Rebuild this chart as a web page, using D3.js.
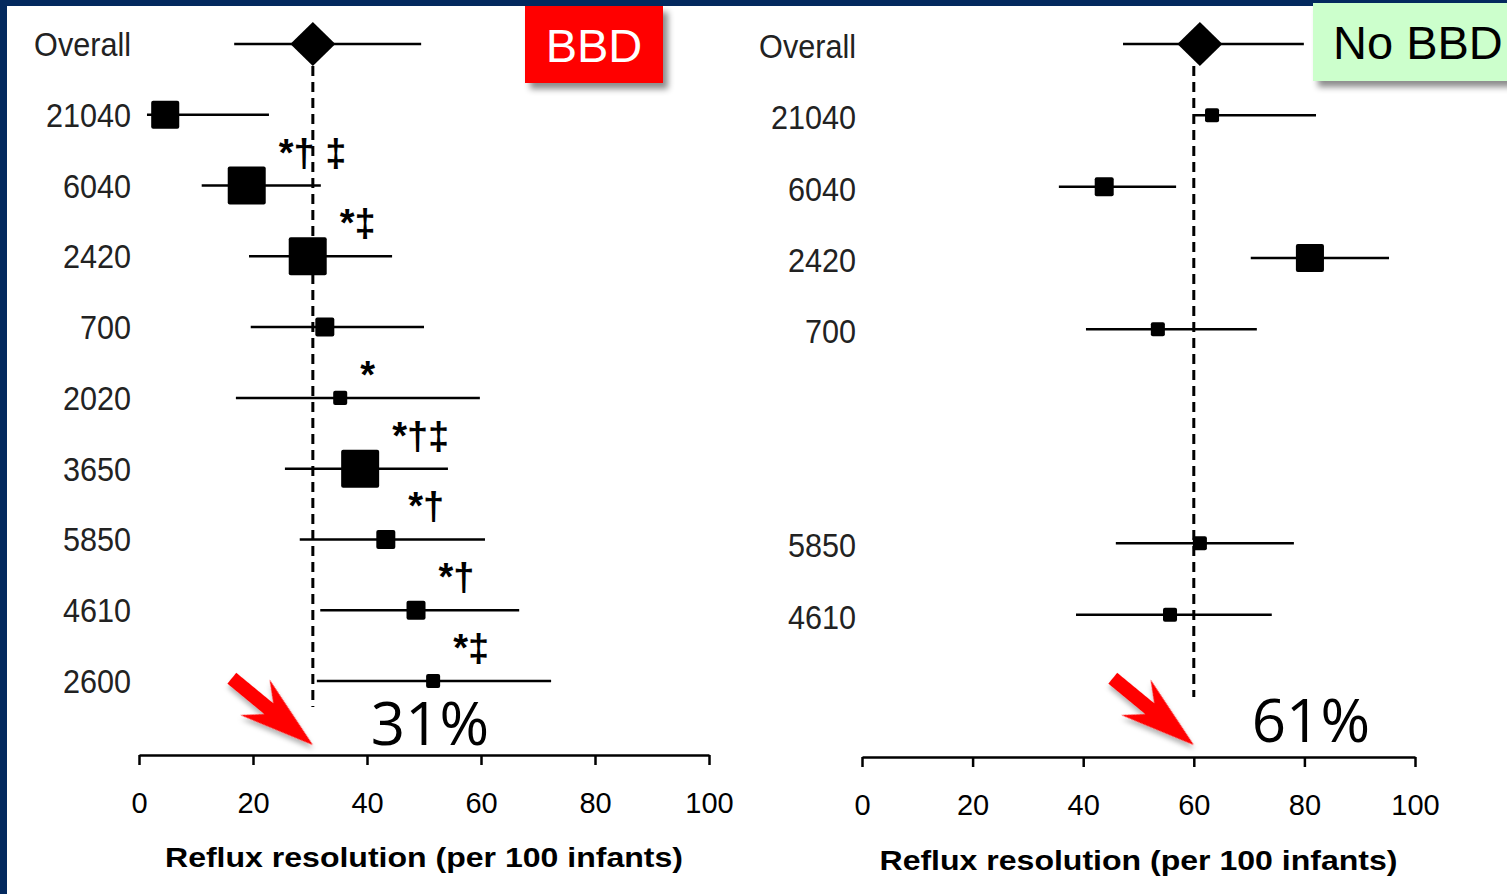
<!DOCTYPE html>
<html>
<head>
<meta charset="utf-8">
<script src="https://cdn.jsdelivr.net/npm/d3@7"></script>
<style>
  body { margin: 0; background: #fff; }
  svg { display: block; }
</style>
</head>
<body>
<script>
// study rows, top to bottom
const studies = ["Overall", "21040", "6040", "2420", "700", "2020", "3650", "5850", "4610", "2600"];

// BBD panel (per 100 infants)
const bbdEst    = [30.5, 4.6, 18.9, 29.6, 32.6, 35.3, 38.8, 43.3, 48.6, 51.6];
const bbdLow    = [16.7, 1.4, 11.0, 19.3, 19.6, 17.0, 25.6, 28.2, 31.8, 31.2];
const bbdHigh   = [49.5, 22.8, 31.9, 44.4, 50.0, 59.8, 54.2, 60.7, 66.7, 72.3];
const bbdWeight = [null, 12, 22, 22, 5.5, 3, 22, 5.5, 5.5, 3];
const bbdMarks  = ["", "", "*† ‡", "*‡", "", "*", "*†‡", "*†", "*†", "*‡"];
const bbdRef = 30.5;

// No BBD panel
const noEst    = [61.1, 63.3, 43.8, 81.0, 53.5, null, null, 61.1, 55.7, null];
const noLow    = [47.2, 60.0, 35.6, 70.3, 40.5, null, null, 45.9, 38.7, null];
const noHigh   = [79.9, 82.1, 56.8, 95.3, 71.4, null, null, 78.1, 74.1, null];
const noWeight = [null, 3, 5.5, 12, 3, null, null, 3, 3, null];
const noRef = 60.0;

const xTicks = [0, 20, 40, 60, 80, 100];
const axisTitle = "Reflux resolution (per 100 infants)";

const W = 1507, H = 894;
const svg = d3.select("body").append("svg").attr("width", W).attr("height", H);

const defs = svg.append("defs");
const sh = defs.append("filter").attr("id", "shadow")
  .attr("x", "-20%").attr("y", "-20%").attr("width", "150%").attr("height", "150%");
sh.append("feDropShadow").attr("dx", 5).attr("dy", 6).attr("stdDeviation", 3)
  .attr("flood-color", "#000").attr("flood-opacity", 0.45);
const sh2 = defs.append("filter").attr("id", "ashadow")
  .attr("x", "-30%").attr("y", "-30%").attr("width", "170%").attr("height", "170%");
sh2.append("feDropShadow").attr("dx", 3).attr("dy", 3).attr("stdDeviation", 2.5)
  .attr("flood-color", "#000").attr("flood-opacity", 0.3);

// navy frame
svg.append("rect").attr("x", 0).attr("y", 0).attr("width", W).attr("height", 6).attr("fill", "#03295e");
svg.append("rect").attr("x", 0).attr("y", 0).attr("width", 7).attr("height", H).attr("fill", "#03295e");

const size = d3.scaleSqrt().domain([0, 22]).range([0, 38]);

const panels = [
  { est: bbdEst, low: bbdLow, high: bbdHigh, w: bbdWeight, marks: bbdMarks, ref: bbdRef,
    pct: "31%", xr: [139, 709], yr: [44, 681], axisY: 755, labelX: 131, labelDy: 12,
    refY: [66, 707], pctY: 745, titleY: 867,
    badge: { x: 525, y: 6, w: 138, h: 77, fill: "#ff0000", color: "#fff", text: "BBD", tx: 594, anchor: "middle" } },
  { est: noEst, low: noLow, high: noHigh, w: noWeight, marks: studies.map(() => ""), ref: noRef,
    pct: "61%", xr: [862, 1415], yr: [44, 686], axisY: 757, labelX: 856, labelDy: 14,
    refY: [66, 697], pctY: 742, titleY: 870,
    badge: { x: 1313, y: 3, w: 200, h: 78, fill: "#ccffcc", color: "#000", text: "No BBD", tx: 1333, anchor: "start" } }
];

panels.forEach(p => {
  const g = svg.append("g");
  const x = d3.scaleLinear().domain([0, 100]).range(p.xr);
  const y = d3.scalePoint().domain(studies).range(p.yr);

  const rows = studies.map((s, i) => ({
    s, est: p.est[i], lo: p.low[i], hi: p.high[i], w: p.w[i], mark: p.marks[i]
  })).filter(d => d.est != null);

  // reference dashed line
  g.append("line")
    .attr("x1", x(p.ref)).attr("x2", x(p.ref))
    .attr("y1", p.refY[0]).attr("y2", p.refY[1])
    .attr("stroke", "#000").attr("stroke-width", 3).attr("stroke-dasharray", "10,6");

  // confidence intervals
  g.selectAll("line.ci").data(rows).join("line").attr("class", "ci")
    .attr("x1", d => x(d.lo)).attr("x2", d => x(d.hi))
    .attr("y1", d => y(d.s)).attr("y2", d => y(d.s))
    .attr("stroke", "#000").attr("stroke-width", 2.5);

  // study squares
  g.selectAll("rect.pt").data(rows.filter(d => d.w != null)).join("rect").attr("class", "pt")
    .attr("x", d => x(d.est) - size(d.w) / 2).attr("y", d => y(d.s) - size(d.w) / 2)
    .attr("width", d => size(d.w)).attr("height", d => size(d.w))
    .attr("rx", 2).attr("fill", "#000");

  // pooled diamond
  g.selectAll("path.dia").data(rows.filter(d => d.w == null)).join("path").attr("class", "dia")
    .attr("d", d => {
      const cx = x(d.est), cy = y(d.s);
      return `M${cx - 22.5},${cy}L${cx},${cy - 22}L${cx + 22.5},${cy}L${cx},${cy + 22}Z`;
    })
    .attr("fill", "#000");

  // significance marks
  g.selectAll("text.mark").data(rows.filter(d => d.mark)).join("text").attr("class", "mark")
    .attr("x", d => x(d.est) + size(d.w) / 2 + 13)
    .attr("y", d => y(d.s) - (d.mark.length > 1 ? 20 : 10))
    .attr("font-family", "Liberation Sans, Arial, sans-serif").attr("font-size", 38)
    .attr("font-weight", "bold").attr("fill", "#000")
    .text(d => d.mark);

  // row labels
  g.selectAll("text.lab").data(rows).join("text").attr("class", "lab")
    .attr("transform", d => `translate(${p.labelX},${y(d.s) + p.labelDy}) scale(0.9,1)`)
    .attr("text-anchor", "end")
    .attr("font-family", "Liberation Sans, Arial, sans-serif").attr("font-size", 34)
    .attr("fill", "#222")
    .text(d => d.s);

  // x axis
  const ax = g.append("g").attr("transform", `translate(0,${p.axisY})`)
    .call(d3.axisBottom(x).tickValues(xTicks).tickSize(10).tickSizeOuter(0).tickPadding(27));
  ax.select(".domain").attr("stroke", "#000").attr("stroke-width", 2.5);
  ax.selectAll(".tick line").attr("stroke", "#000").attr("stroke-width", 2.5);
  ax.selectAll(".tick text").attr("font-family", "Liberation Sans, Arial, sans-serif")
    .attr("font-size", 29).attr("fill", "#000");

  g.append("text")
    .attr("x", (p.xr[0] + p.xr[1]) / 2).attr("y", p.titleY)
    .attr("text-anchor", "middle")
    .attr("font-family", "Liberation Sans, Arial, sans-serif").attr("font-weight", "bold")
    .attr("font-size", 28).attr("textLength", 518).attr("lengthAdjust", "spacingAndGlyphs")
    .text(axisTitle);

  // pooled percentage
  g.append("text")
    .attr("x", x(p.ref) + 58).attr("y", p.pctY)
    .attr("font-family", "Open Sans, sans-serif").attr("font-size", 60).attr("fill", "#000")
    .text(p.pct);

  // red arrow pointing at the pooled value
  const tipX = x(p.ref), tipY = 745;
  g.append("path")
    .attr("d", "M0,-7L48,-7L30,-23L105,0L30,23L48,7L0,7Z")
    .attr("transform", `translate(${tipX},${tipY}) rotate(39.5) translate(-105,0)`)
    .attr("fill", "#ff0000").attr("filter", "url(#ashadow)");

  // badge
  const b = p.badge;
  g.append("rect").attr("x", b.x).attr("y", b.y).attr("width", b.w).attr("height", b.h)
    .attr("fill", b.fill).attr("filter", "url(#shadow)");
  g.append("text").attr("x", b.tx).attr("y", b.y + b.h / 2 + 17)
    .attr("text-anchor", b.anchor)
    .attr("font-family", "Liberation Sans, Arial, sans-serif").attr("font-size", 47)
    .attr("fill", b.color).text(b.text);
});
</script>
</body>
</html>
